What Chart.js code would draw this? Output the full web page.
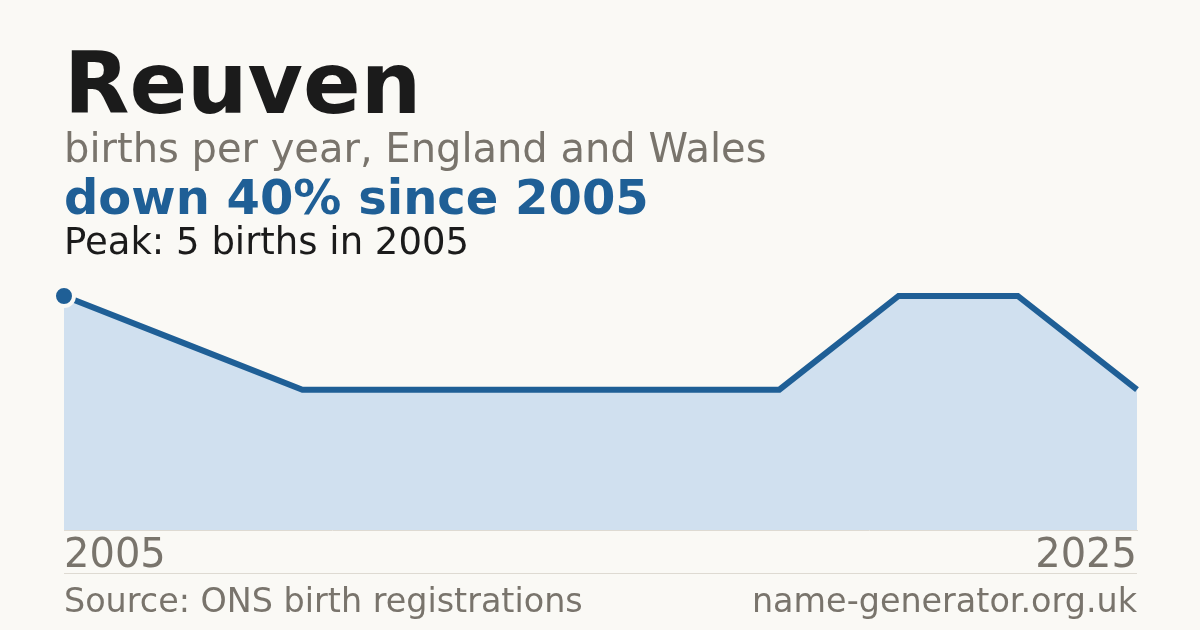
<!DOCTYPE html>
<html>
<head>
<meta charset="utf-8">
<script src="https://cdn.jsdelivr.net/npm/chart.js@4/dist/chart.umd.min.js"></script>
<style>
    html, body {
        margin: 0;
        padding: 0;
        background: #faf9f5;
    }
    #card {
        position: relative;
        width: 1200px;
        height: 630px;
        overflow: hidden;
        font-family: "DejaVu Sans", sans-serif;
    }
    .line {
        position: absolute;
        left: 64px;
        line-height: 1;
        white-space: nowrap;
    }
    #title { top: 41px; font-size: 85px; font-weight: bold; color: #1b1b1b; }
    #subtitle { top: 128px; font-size: 40px; color: #79746c; }
    #headline { top: 173px; font-size: 48px; font-weight: bold; color: #1f5f96; }
    #peak { top: 223px; font-size: 37px; color: #1b1b1b; }
    #rule {
        position: absolute;
        left: 64px;
        top: 573px;
        width: 1073px;
        height: 0;
        border-top: 1px solid #dedad2;
    }
    .foot { top: 584px; font-size: 33.4px; color: #79746c; }
    #site { left: auto; right: 63px; }
    #chart {
        position: absolute;
        left: 0;
        top: 0;
    }
</style>
</head>
<body>
<div id="card">
    <canvas id="chart" width="1200" height="630"></canvas>
    <div class="line" id="title">Reuven</div>
    <div class="line" id="subtitle">births per year, England and Wales</div>
    <div class="line" id="headline">down 40% since 2005</div>
    <div class="line" id="peak">Peak: 5 births in 2005</div>
    <div id="rule"></div>
    <div class="line foot" id="source">Source: ONS birth registrations</div>
    <div class="line foot" id="site">name-generator.org.uk</div>
</div>
<script>
// Data
const years = ['2005', '2008', '2010', '2012', '2014', '2016', '2018', '2021', '2023', '2025'];
const births = [5, 4, 3, 3, 3, 3, 3, 5, 5, 3];
const yRange = [0, 5];

const LINE_COLOR = '#1f5f96';
const FILL_COLOR = '#d0e0ef';
const BG_COLOR = '#faf9f5';

// Render the births trend
function renderTrendChart() {
    const ctx = document.getElementById('chart');
    if (!ctx) return;

    new Chart(ctx, {
        type: 'line',
        data: {
            labels: years,
            datasets: [{
                data: births,
                borderColor: LINE_COLOR,
                borderWidth: 6,
                backgroundColor: FILL_COLOR,
                fill: 'origin',
                tension: 0,
                clip: false,
                pointRadius: (c) => c.dataIndex === 0 ? 10 : 0,
                pointHoverRadius: 0,
                pointBackgroundColor: LINE_COLOR,
                pointBorderColor: BG_COLOR,
                pointBorderWidth: 4
            }]
        },
        options: {
            responsive: false,
            animation: false,
            devicePixelRatio: 1,
            layout: {
                // chart area runs 64..1137 across, 296..530 down
                padding: { top: 296, left: 64, right: 63, bottom: 47.3 }
            },
            plugins: {
                legend: { display: false },
                tooltip: { enabled: false }
            },
            scales: {
                x: {
                    offset: false,
                    grid: { display: false, drawTicks: false },
                    border: { display: true, color: '#dedad2', width: 1 },
                    ticks: {
                        autoSkip: false,
                        maxRotation: 0,
                        align: 'inner',
                        padding: 2.2,
                        color: '#79746c',
                        font: { family: 'DejaVu Sans', size: 40 },
                        // only the first and last year are labelled
                        callback: function (value, index, ticks) {
                            if (index === 0 || index === ticks.length - 1) {
                                return this.getLabelForValue(value);
                            }
                            return '';
                        }
                    }
                },
                y: {
                    display: false,
                    min: yRange[0],
                    max: yRange[1]
                }
            }
        }
    });
}

renderTrendChart();
</script>
</body>
</html>
